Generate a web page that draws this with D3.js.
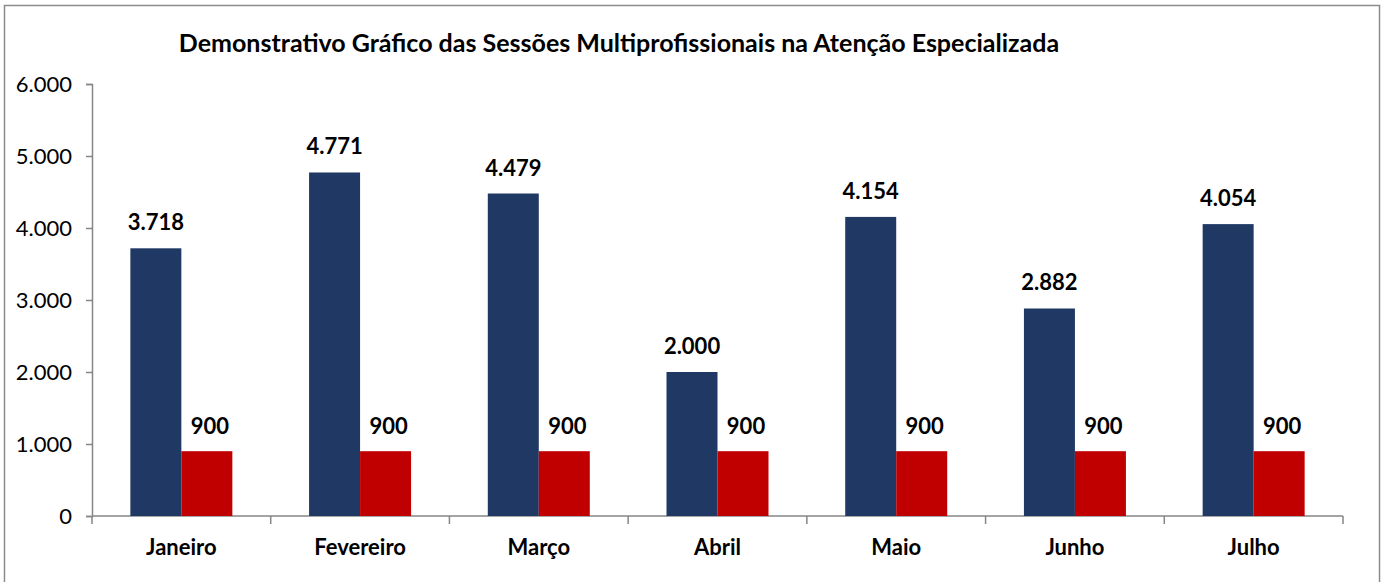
<!DOCTYPE html>
<html>
<head>
<meta charset="utf-8">
<script src="https://cdn.jsdelivr.net/npm/d3@7"></script>
<style>
  body { margin: 0; background: #fff; }
  text { font-family: Lato, "Open Sans", sans-serif; fill: #000; }
</style>
</head>
<body>
<svg id="chart" width="1387" height="582"></svg>
<script>
// chart data
var months = ["Janeiro", "Fevereiro", "Março", "Abril", "Maio", "Junho", "Julho"];
var sessoes = [3718, 4771, 4479, 2000, 4154, 2882, 4054];
var meta = [900, 900, 900, 900, 900, 900, 900];
var yTicks = [0, 1000, 2000, 3000, 4000, 5000, 6000];
var chartTitle = "Demonstrativo Gráfico das Sessões Multiprofissionais na Atenção Especializada";

var svg = d3.select("#chart");
var plotLeft = 92, plotRight = 1343, plotTop = 84, plotBottom = 516;

// outer frame
svg.append("rect")
    .attr("x", 4.5).attr("y", 5.5)
    .attr("width", 1375).attr("height", 600)
    .attr("fill", "none").attr("stroke", "#8c8c8c").attr("stroke-width", 1.5);

var fmt = d3.formatLocale({decimal: ",", thousands: ".", grouping: [3], currency: ["R$", ""]}).format(",d");

var x = d3.scaleBand().domain(months).range([plotLeft, plotRight]).paddingInner(0).paddingOuter(0);
var inner = d3.scaleBand().domain(["s", "m"]).range([0, 102]);
var y = d3.scaleLinear().domain([0, 6000]).range([plotBottom, plotTop]);

// y axis
var yAxis = svg.append("g").attr("transform", "translate(" + plotLeft + ",0)")
    .call(d3.axisLeft(y).tickValues(yTicks).tickFormat(fmt).tickSize(6).tickPadding(14));
yAxis.select(".domain").attr("stroke", "#868686").attr("stroke-width", 1.5);
yAxis.selectAll(".tick line").attr("stroke", "#868686").attr("stroke-width", 1.5);
yAxis.selectAll(".tick text").style("font-size", "22px").style("font-family", "Lato, sans-serif")
    .attr("fill", "#000").attr("dy", "0.36em");

// x axis line and boundary ticks
var xAxisG = svg.append("g");
xAxisG.append("line")
    .attr("x1", plotLeft).attr("x2", plotRight).attr("y1", plotBottom).attr("y2", plotBottom)
    .attr("stroke", "#868686").attr("stroke-width", 1.5);
var bounds = months.map(function (m) { return x(m); }).concat([plotRight]);
xAxisG.selectAll(".bt").data(bounds).enter().append("line")
    .attr("x1", function (d) { return d; }).attr("x2", function (d) { return d; })
    .attr("y1", plotBottom).attr("y2", plotBottom + 8)
    .attr("stroke", "#868686").attr("stroke-width", 1.5);

// groups
var groups = svg.selectAll(".grp").data(months).enter().append("g")
    .attr("transform", function (d) { return "translate(" + (x(d) + (x.bandwidth() - 102) / 2) + ",0)"; });

groups.append("rect")
    .attr("x", inner("s")).attr("width", inner.bandwidth())
    .attr("y", function (d, i) { return y(sessoes[i]); })
    .attr("height", function (d, i) { return plotBottom - y(sessoes[i]); })
    .attr("fill", "#203864");

groups.append("rect")
    .attr("x", inner("m")).attr("width", inner.bandwidth())
    .attr("y", function (d, i) { return y(meta[i]); })
    .attr("height", function (d, i) { return plotBottom - y(meta[i]); })
    .attr("fill", "#c00000");

// value labels
groups.append("text")
    .attr("x", inner("s") + inner.bandwidth() / 2)
    .attr("y", function (d, i) { return y(sessoes[i]) - 18; })
    .attr("text-anchor", "middle")
    .style("font-size", "22px").style("font-weight", "bold")
    .text(function (d, i) { return fmt(sessoes[i]); });

groups.append("text")
    .attr("x", inner("m") + inner.bandwidth() / 2 + 3)
    .attr("y", function (d, i) { return y(meta[i]) - 17; })
    .attr("text-anchor", "middle")
    .style("font-size", "22px").style("font-weight", "bold")
    .text(function (d, i) { return fmt(meta[i]); });

// category labels
svg.selectAll(".cat").data(months).enter().append("text")
    .attr("x", function (d) { return x(d) + x.bandwidth() / 2; })
    .attr("y", 555)
    .attr("text-anchor", "middle")
    .style("font-size", "22px").style("font-weight", "bold")
    .text(function (d) { return d; });

// title
svg.append("text")
    .attr("x", 619).attr("y", 52)
    .attr("text-anchor", "middle")
    .style("font-size", "25px").style("font-weight", "bold")
    .text(chartTitle);
</script>
</body>
</html>
